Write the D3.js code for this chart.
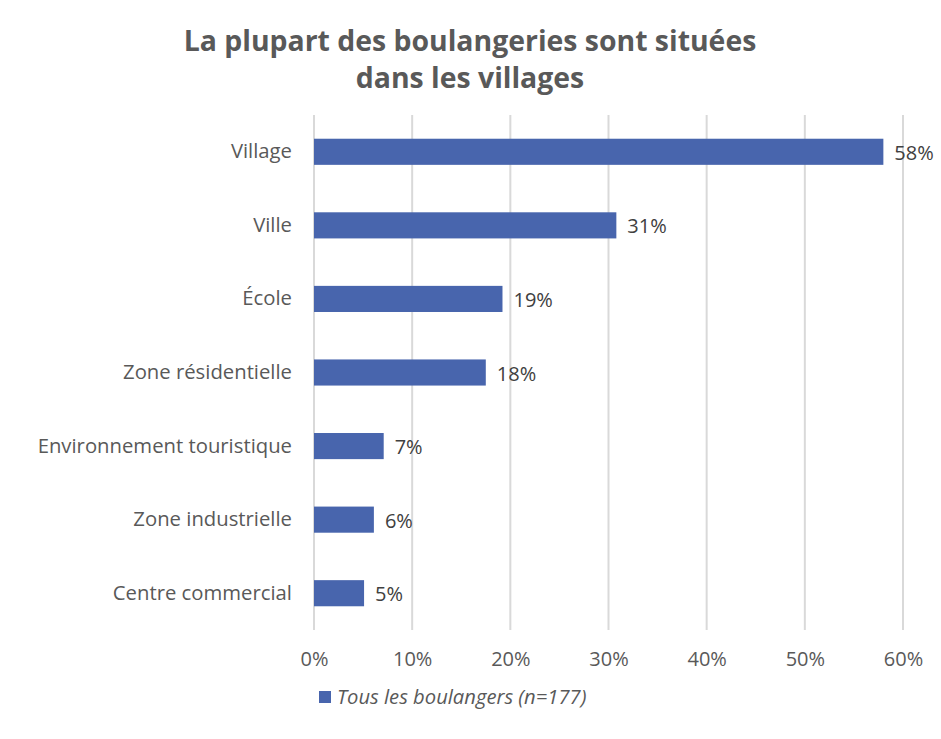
<!DOCTYPE html>
<html><head><meta charset="utf-8">
<script src="https://cdn.jsdelivr.net/npm/d3@7"></script>
<style>body{margin:0;background:#fff}svg{display:block;font-family:"Open Sans",sans-serif}</style>
</head><body><svg id="c" width="941" height="739"></svg>
<script>
const categories = ["Village","Ville","École","Zone résidentielle","Environnement touristique","Zone industrielle","Centre commercial"];
const values = [58.0, 30.8, 19.2, 17.5, 7.1, 6.1, 5.1];
const valueLabels = ["58%","31%","19%","18%","7%","6%","5%"];
const ticks = [0,10,20,30,40,50,60];
const seriesName = "Tous les boulangers (n=177)";
const titleLines = ["La plupart des boulangeries sont situées","dans les villages"];

const svg = d3.select("#c");
const m = {left:314, right:903, top:115, bottom:630};
const x = d3.scaleLinear().domain([0,60]).range([m.left,m.right]);
const y = d3.scaleBand().domain(categories).range([m.top,m.bottom]).paddingInner(0.645).paddingOuter(0.3225);
const barColor = "#4865ad";
const F = '"Open Sans",sans-serif';

svg.append("g").selectAll("text").data(titleLines).join("text")
  .attr("x",470).attr("y",(d,i)=>51+i*37).attr("text-anchor","middle")
  .attr("font-size",28.4).attr("font-weight","bold").attr("fill","#595959").text(d=>d);

svg.append("g").selectAll("line").data(ticks).join("line")
  .attr("x1",d=>x(d)).attr("x2",d=>x(d)).attr("y1",m.top).attr("y2",m.bottom)
  .attr("stroke","#d9d9d9").attr("stroke-width",2);

const ax = svg.append("g").attr("transform",`translate(0,${m.bottom})`)
  .call(d3.axisBottom(x).tickValues(ticks).tickFormat(d=>d+"%").tickSize(0).tickPadding(22));
ax.select(".domain").remove();
ax.selectAll("text").attr("font-size",20).attr("fill","#595959").attr("font-family",F);

const ay = svg.append("g").attr("transform",`translate(${m.left},0)`)
  .call(d3.axisLeft(y).tickSize(0).tickPadding(22));
ay.select(".domain").remove();
ay.selectAll("text").attr("font-size",20.3).attr("fill","#595959").attr("font-family",F);

const data = categories.map((c,i)=>({c,v:values[i],l:valueLabels[i]}));
svg.append("g").selectAll("rect").data(data).join("rect")
  .attr("x",x(0)).attr("y",d=>y(d.c)).attr("width",d=>x(d.v)-x(0)).attr("height",y.bandwidth())
  .attr("fill",barColor);

svg.append("g").selectAll("text").data(data).join("text")
  .attr("x",d=>x(d.v)+11).attr("y",d=>y(d.c)+y.bandwidth()/2+8)
  .attr("font-size",20).attr("fill","#404040").text(d=>d.l);

const lg = svg.append("g");
lg.append("rect").attr("x",319).attr("y",691).attr("width",12).attr("height",12).attr("fill",barColor);
lg.append("text").attr("x",337).attr("y",704).attr("font-size",20.2).attr("font-style","italic")
  .attr("fill","#595959").text(seriesName);
</script></body></html>
